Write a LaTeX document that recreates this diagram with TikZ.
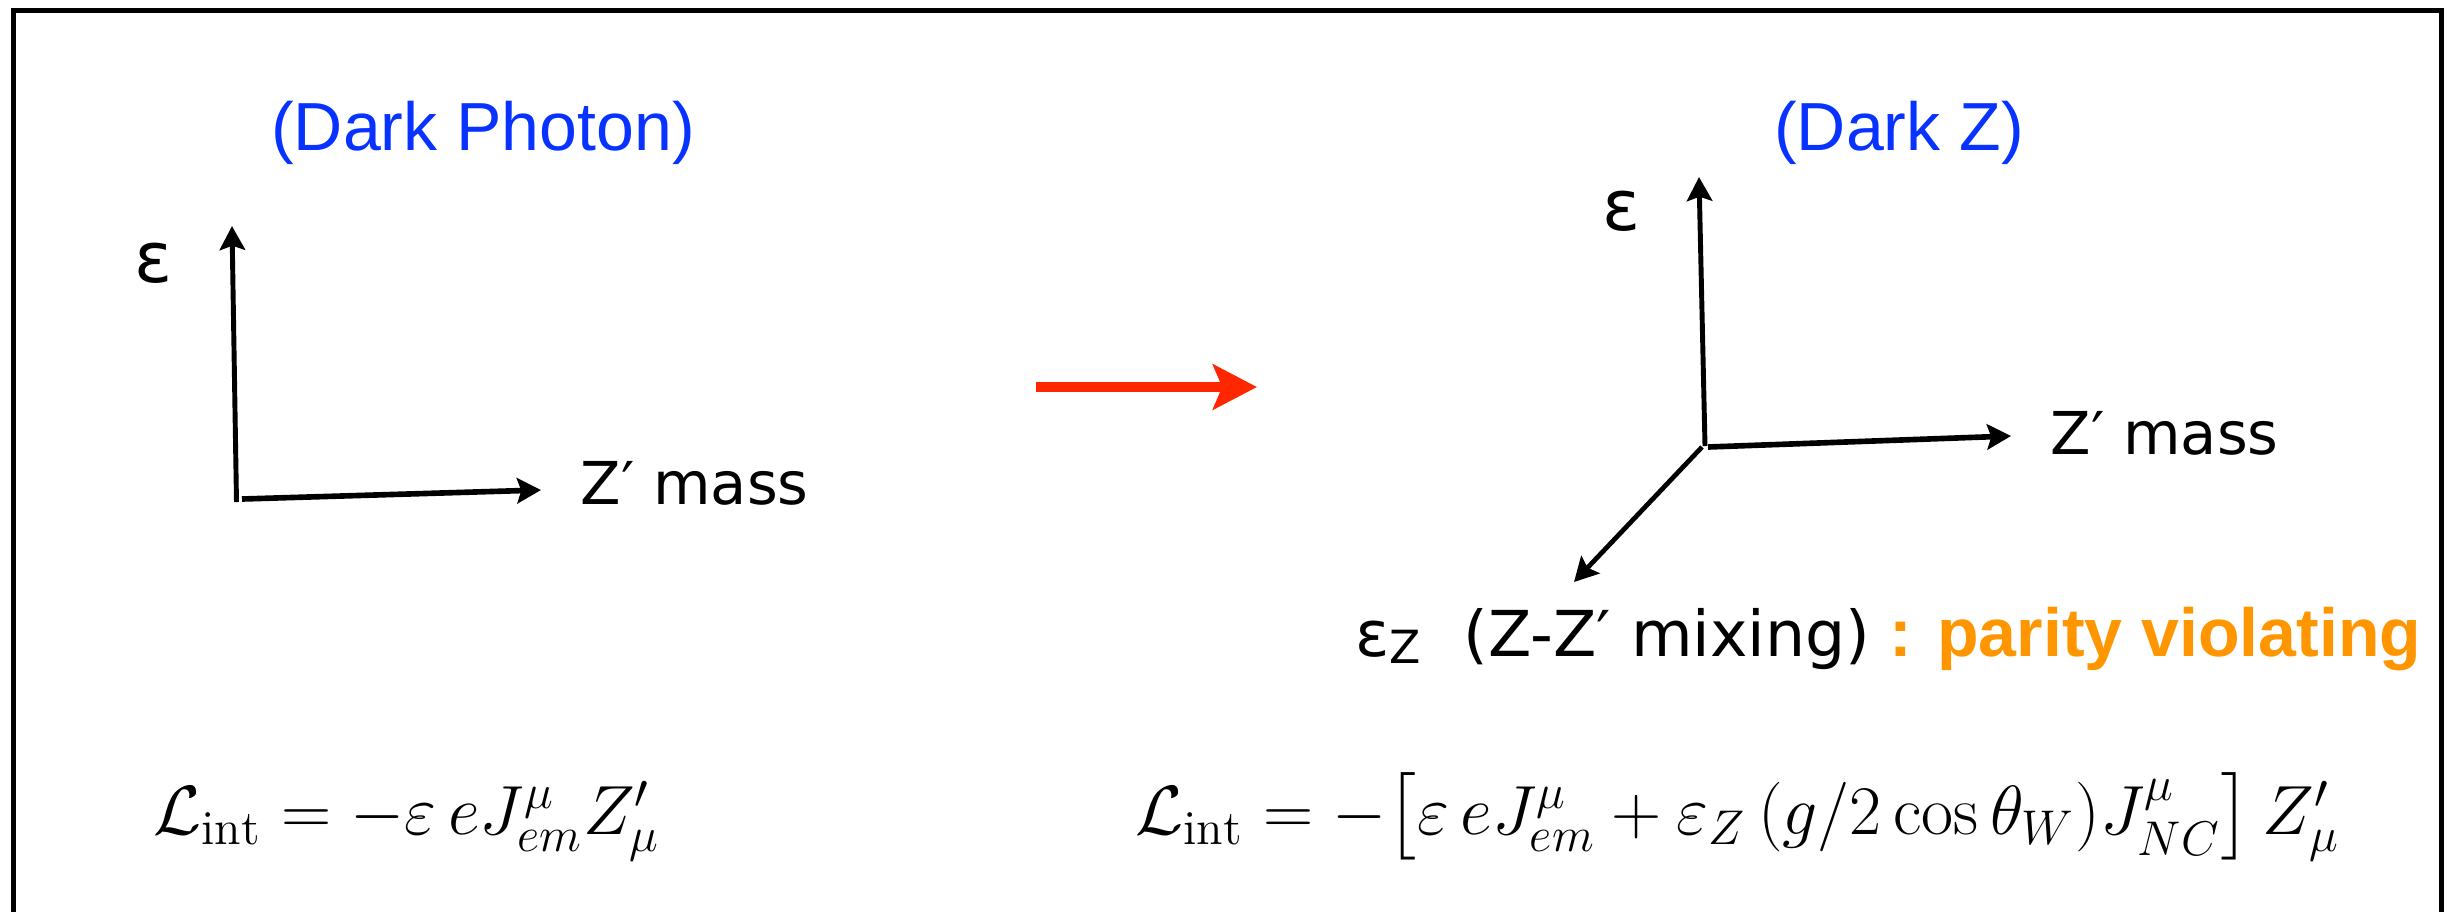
\documentclass[tikz,border=0pt]{standalone}
\usepackage{fix-cm}
\usepackage{amsmath}
\usepackage{fontspec}
\usetikzlibrary{arrows.meta}
\newfontfamily\helv{Liberation Sans}
\newfontfamily\dejavu{DejaVu Sans}
\definecolor{titleblue}{RGB}{8,50,255}
\definecolor{parorange}{RGB}{255,150,0}
\definecolor{arrowred}{RGB}{255,38,0}
\tikzset{
  axisarrow/.style={line width=1.4pt, -{Stealth[length=6.8pt,width=7.2pt,inset=1.2pt]}},
  titletext/.style={text=titleblue, font=\helv\fontsize{19.35}{23}\selectfont, inner sep=0pt, anchor=base},
  axislabel/.style={font=\dejavu\fontsize{16.8}{20}\selectfont, inner sep=0pt},
  epslabel/.style={font=\dejavu\fontsize{20}{24}\selectfont, inner sep=0pt, anchor=base},
  eqtext/.style={font=\fontsize{19.8}{24}\selectfont, inner sep=0pt, anchor=base west},
}
\begin{document}
\begin{tikzpicture}[x=0.01cm,y=-0.01cm]
\clip (0,0) rectangle (2454,911);
\fill[white] (0,0) rectangle (2454,911);
% frame
\draw[line width=1.42pt] (13.5,960) -- (13.5,10) -- (2441.5,10) -- (2441.5,960);

% titles
\node[titletext] (tDP) at (483,150) {(Dark Photon)};
\node[titletext] (tDZ) at (1899,150) {(Dark Z)};

% left axes
\coordinate (lo) at (236.5,502);
\coordinate (lh) at (242,499);
\coordinate (lv) at (232,226);
\coordinate (lx) at (541,490);
\draw[axisarrow] (lo) -- (lv);
\draw[axisarrow, line width=1.6pt] (lh) -- (lx);
\node[epslabel] (leps) at (154,282) {ε};
\node[axislabel, anchor=base west] (lmass) at (580,504) {Z′ mass};

% red arrow
\coordinate (ra) at (1036,387);
\coordinate (rb) at (1257,387);
\draw[arrowred, line width=2.85pt, -{Stealth[length=12.5pt,width=12.8pt,inset=2.6pt]}] (ra) -- (rb);

% right axes
\coordinate (ro) at (1705,446);
\coordinate (rh) at (1708,447);
\coordinate (rv) at (1699,177);
\coordinate (rx) at (2011,436);
\coordinate (rd0) at (1702,447);
\coordinate (rd) at (1574,582);
\draw[axisarrow] (ro) -- (rv);
\draw[axisarrow, line width=1.6pt] (rh) -- (rx);
\draw[axisarrow, line width=1.35pt] (rd0) -- (rd);
\node[epslabel] (reps) at (1621,230) {ε};
\node[axislabel, anchor=base west] (rmass) at (2050,454) {Z′ mass};
\node[axislabel, anchor=base west, font=\dejavu\fontsize{18}{22}\selectfont] (mix) at (1355,656) {ε\raisebox{-0.12em}{\fontsize{13}{15}\selectfont Z}\hspace{12pt}(Z-Z′ mixing)};
\node[inner sep=0pt, anchor=base east, text=parorange, font=\helv\bfseries\fontsize{19.35}{23}\selectfont] (pv) at (2422,656) {: parity violating};

% formulas
\node[eqtext] (eqL) at (153,834) {$\mathcal{L}_{\mathrm{int}} = -\varepsilon\, e J^{\mu}_{em} Z'_{\mu}$};
\node[eqtext] (eqR) at (1135,834) {$\mathcal{L}_{\mathrm{int}} = -\big[\varepsilon\, e J^{\mu}_{em} + \varepsilon_{Z}\,(g/2\cos\theta_W) J^{\mu}_{NC}\big]\, Z'_{\mu}$};
\end{tikzpicture}
\end{document}
